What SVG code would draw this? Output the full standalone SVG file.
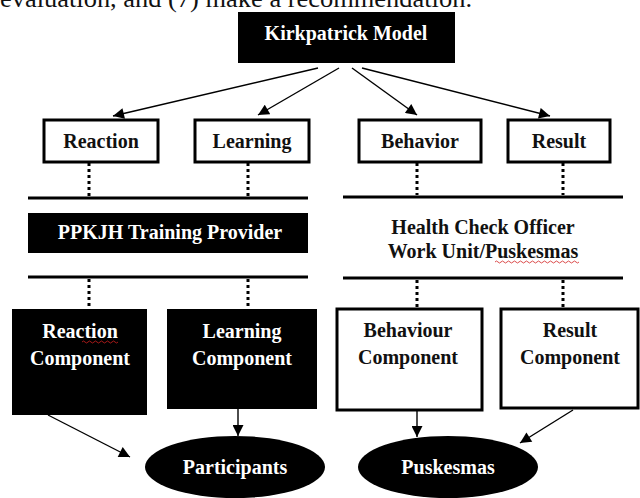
<svg xmlns="http://www.w3.org/2000/svg" width="640" height="498" viewBox="0 0 640 498">
<defs>
<marker id="ah" viewBox="0 0 10 10" refX="10" refY="5" markerWidth="12" markerHeight="11" markerUnits="userSpaceOnUse" orient="auto">
<path d="M0,0 L10,5 L0,10 z" fill="#000"/>
</marker>
<style>
text{font-family:"Liberation Serif","Times New Roman",serif;font-weight:bold;font-size:20px;text-anchor:middle}
.w{fill:#fff}
.k{fill:#111}
.bk{fill:#000}
.wb{fill:#fff;stroke:#000;stroke-width:3}
.arr{stroke:#000;stroke-width:1.4;fill:none;marker-end:url(#ah)}
.dot{stroke:#000;stroke-width:3;stroke-dasharray:3 3;fill:none}
.bar{stroke:#000;stroke-width:3}
.sq{fill:none;stroke:#d02020;stroke-width:0.8}
</style>
</defs>
<rect width="640" height="498" fill="#fff"/>
<text x="0" y="7" textLength="472" lengthAdjust="spacingAndGlyphs" style="font-weight:normal;font-size:26px;text-anchor:start" class="k">evaluation, and (7) make a recommendation.</text>

<g id="kirkpatrick"><rect class="bk" x="238" y="12" width="217" height="51"/><text class="w" x="346" y="40">Kirkpatrick Model</text></g>

<g id="reaction"><rect class="wb" x="44" y="120" width="114" height="42"/><text class="k" x="101" y="148">Reaction</text></g>
<g id="learning"><rect class="wb" x="195" y="120" width="114" height="42"/><text class="k" x="252" y="148">Learning</text></g>
<g id="behavior"><rect class="wb" x="359" y="120" width="122" height="42"/><text class="k" x="420" y="148">Behavior</text></g>
<g id="result"><rect class="wb" x="508" y="120" width="102" height="42"/><text class="k" x="559" y="148">Result</text></g>

<g id="bars">
<line class="bar" x1="28" y1="198" x2="308" y2="198"/>
<line class="bar" x1="28" y1="277" x2="308" y2="277"/>
<line class="bar" x1="343" y1="197" x2="623" y2="197"/>
<line class="bar" x1="343" y1="278" x2="623" y2="278"/>
</g>

<g id="provider"><rect class="bk" x="28" y="213" width="280" height="40"/><text class="w" x="170" y="239">PPKJH Training Provider</text></g>
<g id="workunit"><text class="k" x="483" y="234">Health Check Officer</text><text class="k" x="483" y="258">Work Unit/Puskesmas</text>
<path class="sq" d="M495,262 q1.5,-2 3,0 t3,0 t3,0 t3,0 t3,0 t3,0 t3,0 t3,0 t3,0 t3,0 t3,0 t3,0 t3,0 t3,0 t3,0 t3,0 t3,0 t3,0 t3,0 t3,0 t3,0 t3,0 t3,0 t3,0 t3,0 t3,0 t3,0 t3,0"/></g>

<g id="reaction-comp"><rect class="bk" x="12" y="309" width="135" height="106"/><text class="w" x="80" y="338">Reaction</text><text class="w" x="80" y="365">Component</text>
<path class="sq" d="M82,342 q1.5,-2 3,0 t3,0 t3,0 t3,0 t3,0 t3,0 t3,0 t3,0 t3,0 t3,0 t3,0 t3,0"/></g>
<g id="learning-comp"><rect class="bk" x="167" y="309" width="150" height="100"/><text class="w" x="242" y="338">Learning</text><text class="w" x="242" y="365">Component</text></g>
<g id="behaviour-comp"><rect class="wb" x="337" y="309" width="145" height="101"/><text class="k" x="408" y="337">Behaviour</text><text class="k" x="408" y="364">Component</text></g>
<g id="result-comp"><rect class="wb" x="501" y="309" width="137" height="99"/><text class="k" x="570" y="337">Result</text><text class="k" x="570" y="364">Component</text></g>

<g id="participants"><ellipse class="bk" cx="235" cy="467" rx="90" ry="31"/><text class="w" x="235" y="474">Participants</text></g>
<g id="puskesmas"><ellipse class="bk" cx="448" cy="467" rx="90" ry="31"/><text class="w" x="448" y="474">Puskesmas</text></g>

<g id="connectors">
<line class="arr" x1="318" y1="68" x2="113" y2="116"/>
<line class="arr" x1="339" y1="68" x2="258" y2="115"/>
<line class="arr" x1="352" y1="68" x2="417" y2="115"/>
<line class="arr" x1="362" y1="68" x2="550" y2="116"/>
<line class="dot" x1="89" y1="163" x2="89" y2="196"/>
<line class="dot" x1="248" y1="163" x2="248" y2="196"/>
<line class="dot" x1="417" y1="163" x2="417" y2="195"/>
<line class="dot" x1="563" y1="163" x2="563" y2="195"/>
<line class="dot" x1="89" y1="279" x2="89" y2="309"/>
<line class="dot" x1="248" y1="279" x2="248" y2="309"/>
<line class="dot" x1="417" y1="280" x2="417" y2="308"/>
<line class="dot" x1="563" y1="280" x2="563" y2="308"/>
<line class="arr" x1="48" y1="415" x2="130" y2="457"/>
<line class="arr" x1="238" y1="409" x2="238" y2="436"/>
<line class="arr" x1="417" y1="411" x2="417" y2="437"/>
<line class="arr" x1="573" y1="410" x2="520" y2="443"/>
</g>
</svg>
